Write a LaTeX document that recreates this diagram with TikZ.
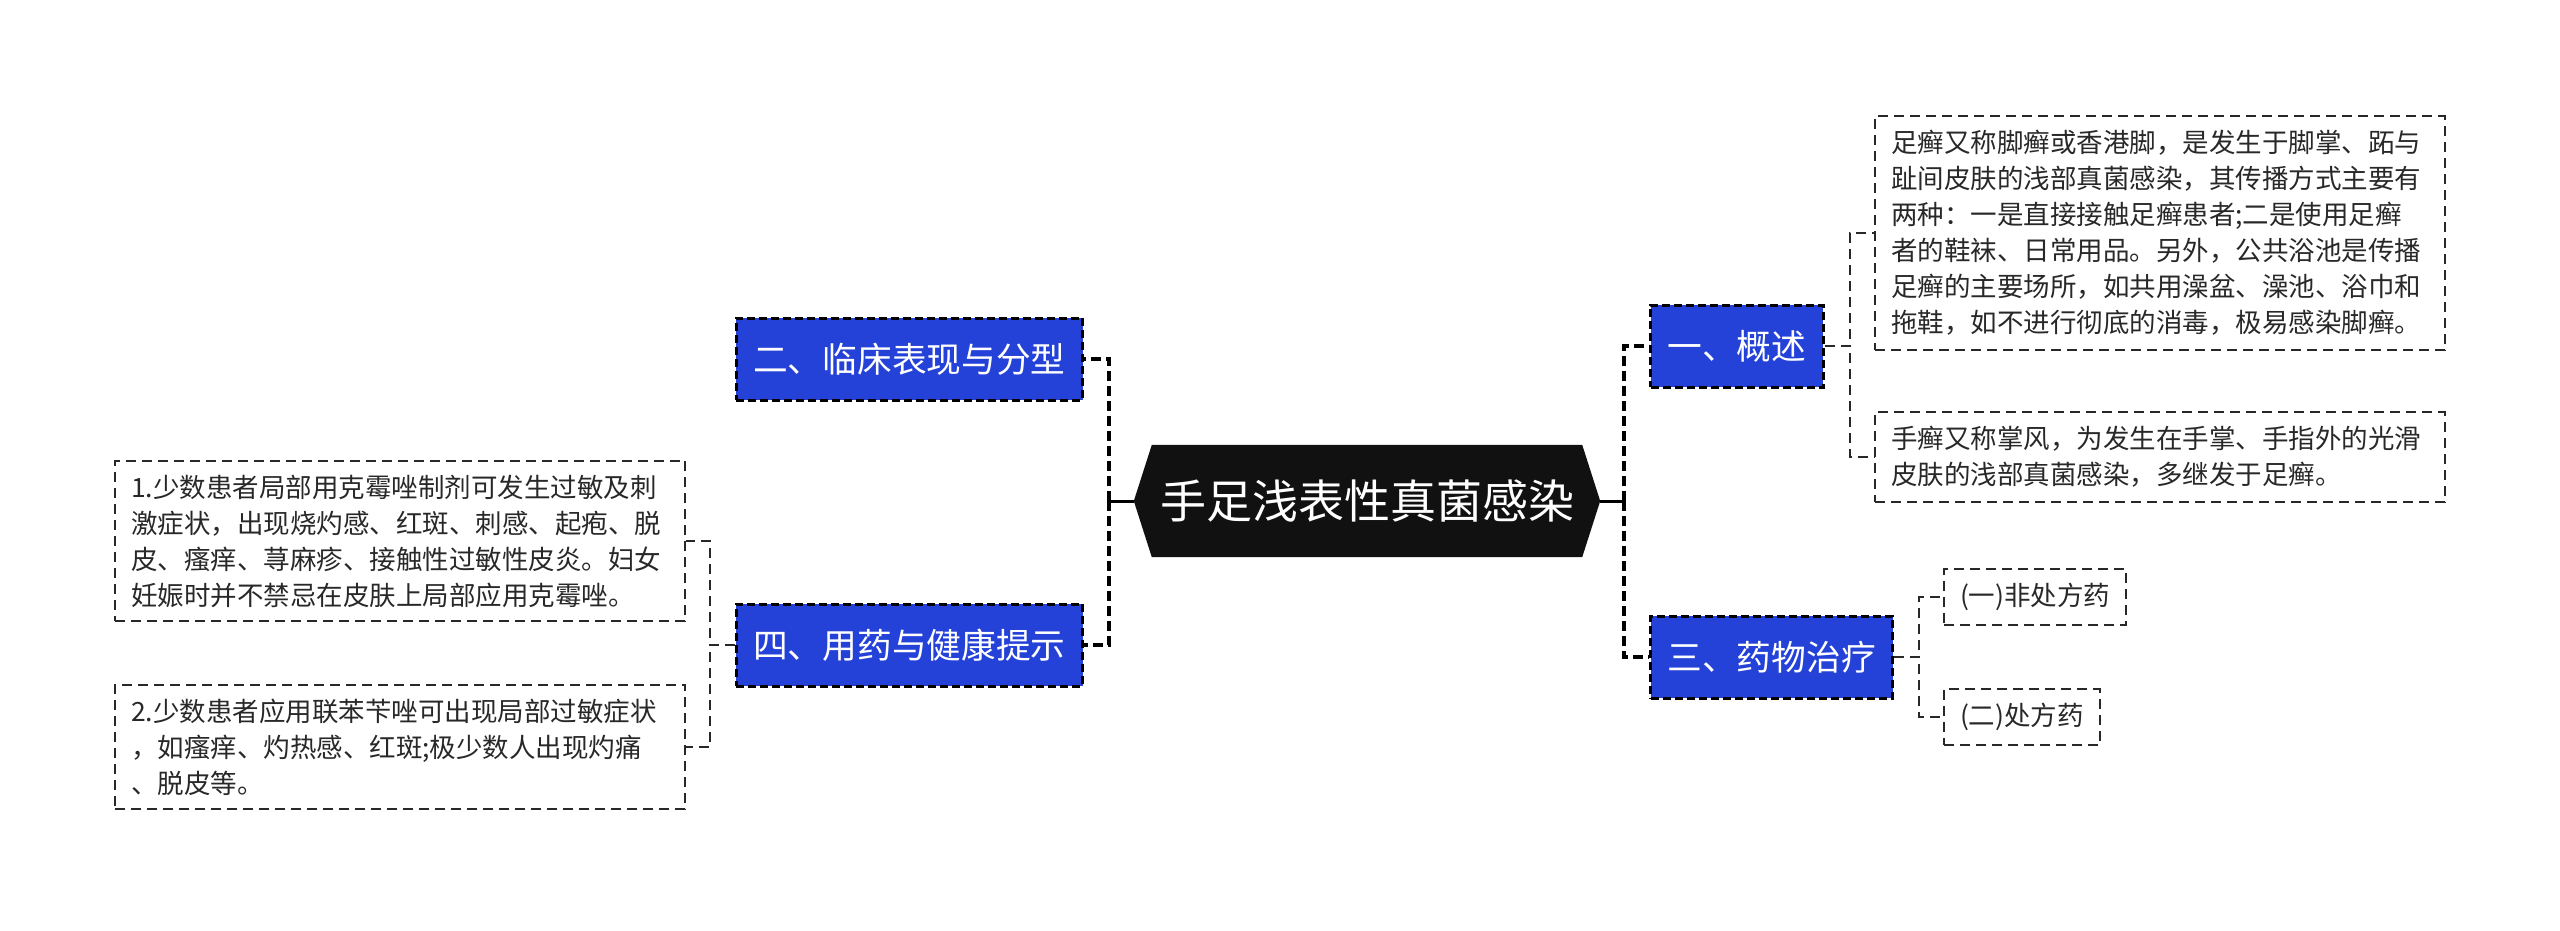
\documentclass[tikz,border=0pt]{standalone}
\usepackage{fontspec}
\setmainfont{Noto Sans CJK SC}
\usetikzlibrary{backgrounds}
\definecolor{topicblue}{RGB}{36,66,216}
\definecolor{roottone}{RGB}{17,17,17}
\definecolor{leafink}{RGB}{40,40,40}
\tikzset{
  rootnode/.style={rectangle, text=white, font=\fontsize{46}{54}\selectfont,
    minimum width=430pt, minimum height=112pt, inner sep=0pt},
  topic/.style={rectangle, fill=topicblue, draw=black, line width=3pt,
    dash pattern=on 8pt off 4pt, text=white, font=\fontsize{34.7}{42}\selectfont,
    minimum height=82pt, inner xsep=17pt},
  leaf/.style={rectangle, draw=leafink, line width=2pt, dash pattern=on 10pt off 6pt,
    text=leafink, font=\fontsize{26.5}{36}\selectfont, align=left,
    inner xsep=16pt, inner ysep=14pt},
  rootlink/.style={line width=3pt, black},
  trunk/.style={line width=3.5pt, black, dash pattern=on 10pt off 5pt},
  twig/.style={line width=2pt, leafink, dash pattern=on 10pt off 6pt},
}
\begin{document}
\begin{tikzpicture}[x=1pt, y=-1pt]
        \useasboundingbox (0,0) rectangle (2560,930);
        % root
        \node[rootnode] (root) at (1367,501) {手足浅表性真菌感染};
        \begin{scope}[on background layer]
          \fill[roottone] (root.north west) -- (root.north east)
            -- ([xshift=18pt]root.east) coordinate (rootR)
            -- (root.south east) -- (root.south west)
            -- ([xshift=-18pt]root.west) coordinate (rootL) -- cycle;
        \end{scope}
        % topics
        \node[topic, anchor=east] (clinic) at (1084,359) {二、临床表现与分型};
        \node[topic, anchor=east] (advice) at (1084,645) {四、用药与健康提示};
        \node[topic, anchor=west] (intro)  at (1649,346) {一、概述};
        \node[topic, anchor=west] (drug)   at (1649,657) {三、药物治疗};
        % leaves
        \node[leaf, text width=538pt, anchor=west] (foot) at (1874,233)
          {足癣又称脚癣或香港脚，是发生于脚掌、跖与\\
           趾间皮肤的浅部真菌感染，其传播方式主要有\\
           两种：一是直接接触足癣患者;二是使用足癣\\
           者的鞋袜、日常用品。另外，公共浴池是传播\\
           足癣的主要场所，如共用澡盆、澡池、浴巾和\\
           拖鞋，如不进行彻底的消毒，极易感染脚癣。};
        \node[leaf, text width=538pt, anchor=west] (hand) at (1874,457)
          {手癣又称掌风，为发生在手掌、手指外的光滑\\
           皮肤的浅部真菌感染，多继发于足癣。};
        \node[leaf, anchor=west] (otc) at (1943,597) {(一)非处方药};
        \node[leaf, anchor=west] (rx)  at (1943,717) {(二)处方药};
        \node[leaf, text width=538pt, anchor=east] (clotri) at (686,541)
          {1.少数患者局部用克霉唑制剂可发生过敏及刺\\
           激症状，出现烧灼感、红斑、刺感、起疱、脱\\
           皮、瘙痒、荨麻疹、接触性过敏性皮炎。妇女\\
           妊娠时并不禁忌在皮肤上局部应用克霉唑。};
        \node[leaf, text width=538pt, anchor=east] (bifon) at (686,747)
          {2.少数患者应用联苯苄唑可出现局部过敏症状\\
           ，如瘙痒、灼热感、红斑;极少数人出现灼痛\\
           、脱皮等。};
        % joints
        \coordinate (lj) at (1109,501);
        \coordinate (rj) at (1624,501);
        % links
        \draw[rootlink] (rootL) -- (lj);
        \draw[rootlink] (rootR) -- (rj);
        \draw[trunk] (lj) |- (clinic.east);
        \draw[trunk] (lj) |- (advice.east);
        \draw[trunk] (rj) |- (intro.west);
        \draw[trunk] (rj) |- (drug.west);
        \draw[twig] (intro.east) -- ++(25,0) |- (foot.west);
        \draw[twig] (intro.east) -- ++(25,0) |- (hand.west);
        \draw[twig] (drug.east) -- ++(25,0) |- (otc.west);
        \draw[twig] (drug.east) -- ++(25,0) |- (rx.west);
        \draw[twig] (advice.west) -- ++(-25,0) |- (clotri.east);
        \draw[twig] (advice.west) -- ++(-25,0) |- (bifon.east);
    \end{tikzpicture}
\end{document}
